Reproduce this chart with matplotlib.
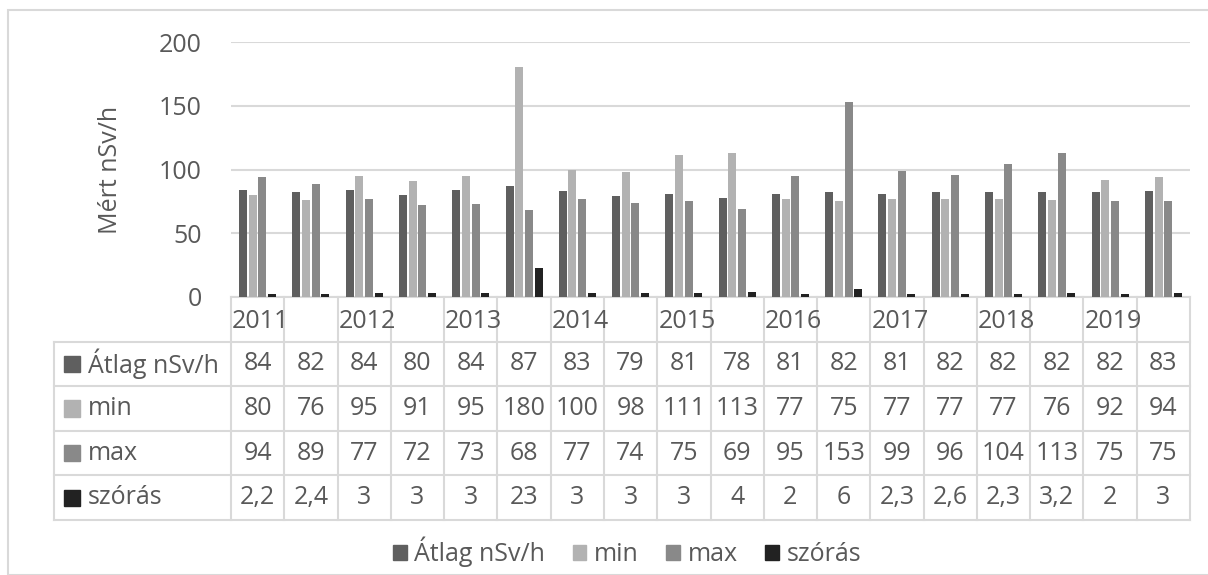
import matplotlib.pyplot as plt
from matplotlib.patches import Rectangle

plt.rcParams['font.family'] = ['Open Sans', 'DejaVu Sans']

# --- data ---
categories = ['2011', '', '2012', '', '2013', '', '2014', '', '2015', '',
              '2016', '', '2017', '', '2018', '', '2019', '']
atlag = [84, 82, 84, 80, 84, 87, 83, 79, 81, 78, 81, 82, 81, 82, 82, 82, 82, 83]
minv = [80, 76, 95, 91, 95, 180, 100, 98, 111, 113, 77, 75, 77, 77, 77, 76, 92, 94]
maxv = [94, 89, 77, 72, 73, 68, 77, 74, 75, 69, 95, 153, 99, 96, 104, 113, 75, 75]
szoras = [2.2, 2.4, 3, 3, 3, 23, 3, 3, 3, 4, 2, 6, 2.3, 2.6, 2.3, 3.2, 2, 3]
series_names = ['Átlag nSv/h', 'min', 'max', 'szórás']
series = [atlag, minv, maxv, szoras]
colors = ['#5f5f5f', '#b2b2b2', '#898989', '#222222']

txt = '#595959'
grid = '#d9d9d9'
W, H = 1208, 575
fs = 18

def fmt(v):
    if float(v).is_integer():
        return str(int(v))
    return str(v).replace('.', ',')

fig = plt.figure(figsize=(W / 100, H / 100), dpi=100)

# outer border
fig.patches.append(Rectangle((8 / W, 0), 1.2, 1 - 10 / H, transform=fig.transFigure,
                             fill=False, edgecolor=grid, lw=1.5))

# --- main plot area ---
x0, x1 = 231, 1190
ytop, ybot = 42, 297
ax = fig.add_axes([x0 / W, 1 - ybot / H, (x1 - x0) / W, (ybot - ytop) / H])
n = len(categories)
pitch = 0.1815
for i, (vals, c) in enumerate(zip(series, colors)):
    xs = [k + (i - 1.5) * pitch for k in range(n)]
    ax.bar(xs, vals, width=0.15, color=c, zorder=3)
ax.set_xlim(-0.5, n - 0.5)
ax.set_ylim(0, 200)
ax.set_yticks([0, 50, 100, 150, 200])
ax.yaxis.grid(True, color=grid, lw=1.5, zorder=0)
ax.set_xticks([])
for s in ['top', 'right', 'left']:
    ax.spines[s].set_visible(False)
ax.spines['bottom'].set_color(grid)
ax.spines['bottom'].set_linewidth(1.5)
ax.tick_params(axis='y', length=0, labelsize=fs, labelcolor=txt, pad=21)
ax.set_ylabel('Mért nSv/h', fontsize=fs, color=txt, labelpad=26)

# --- data table ---
tl = 54
tb = 520
colw = (x1 - x0) / n
left_units = (x0 - tl) / colw
tax = fig.add_axes([tl / W, 1 - tb / H, (x1 - tl) / W, (tb - ybot) / H])
tax.set_xlim(-0.5 - left_units, n - 0.5)
tax.set_ylim(5, 0)
tax.axis('off')
lx = -0.5 - left_units
lk = dict(color=grid, lw=1.5, clip_on=False)
# header row verticals and labels
for k in range(n + 1):
    tax.plot([k - 0.5, k - 0.5], [0, 5], **lk)
for k, lab in enumerate(categories):
    tax.text(k - 0.5 + 0.02, 0.55, lab, ha='left', va='center', fontsize=fs, color=txt)
# horizontal lines
for r in range(1, 6):
    tax.plot([lx, n - 0.5], [r, r], **lk)
tax.plot([lx, lx], [1, 5], **lk)
# rows
for r, (name, vals, c) in enumerate(zip(series_names, series, colors)):
    yc = r + 1.5
    tax.add_patch(Rectangle((lx + 0.19, yc - 0.18), 0.3, 0.36, color=c, clip_on=False))
    tax.text(lx + 0.64, yc, name, ha='left', va='center', fontsize=fs, color=txt)
    for k, v in enumerate(vals):
        tax.text(k, yc, fmt(v), ha='center', va='center', fontsize=fs, color=txt)

# --- legend ---
handles = [Rectangle((0, 0), 1, 1, color=c) for c in colors]
fig.legend(handles, series_names, loc='center', bbox_to_anchor=(627 / W, 1 - 552 / H),
           ncol=4, frameon=False, fontsize=fs, labelcolor=txt, handlelength=0.55,
           handleheight=0.55, handletextpad=0.3, columnspacing=1.1)

fig.savefig('out.png', dpi=100)
